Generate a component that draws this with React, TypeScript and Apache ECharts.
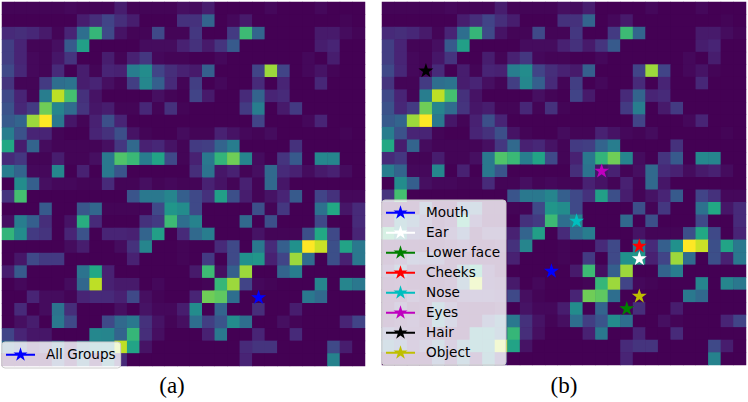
import React, { useEffect, useRef } from "react";
import * as echarts from "echarts";

const heatRows: number[][] = [
  [1,1,1,1,1,2,1,1,1,8,1,1,1,1,4,3,8,0,0,0,0,2,0,0,0,2,0,0,0],
  [0,0,0,0,0,0,8,13,20,13,8,0,0,0,14,14,32,0,2,7,0,0,0,0,0,0,0,1,0],
  [12,13,11,7,1,10,36,66,22,5,1,1,22,1,1,16,0,0,17,68,32,0,0,0,0,7,7,3,1],
  [18,10,1,1,4,28,56,0,0,0,0,3,3,3,9,14,7,15,28,0,0,0,0,0,0,8,10,0,0],
  [18,10,2,1,6,15,0,0,8,1,9,16,2,1,1,0,0,2,0,0,0,0,0,0,2,0,8,0,0],
  [22,11,2,1,12,0,8,1,10,9,42,48,20,13,9,7,30,0,0,0,20,85,20,0,2,5,1,0,0],
  [15,1,1,17,36,38,8,10,4,1,18,46,30,12,1,18,0,2,0,0,12,0,10,0,0,11,0,0,0],
  [22,10,1,42,90,70,14,5,0,0,0,0,4,1,0,20,7,0,0,12,32,10,12,0,0,0,0,0,0],
  [25,11,17,78,45,35,15,6,8,1,1,11,1,14,1,0,0,0,0,17,42,0,7,17,0,0,0,0,0],
  [28,32,85,100,40,6,1,9,24,10,0,0,0,0,0,0,0,0,0,0,20,0,0,0,2,10,0,0,0],
  [42,25,10,10,1,0,0,10,14,24,5,1,0,0,3,1,1,9,5,2,1,3,0,0,0,0,0,1,0],
  [60,8,32,3,1,1,1,1,4,16,34,9,11,5,1,17,18,32,42,0,0,0,0,14,0,0,0,0,0],
  [12,16,1,1,8,1,1,4,40,72,67,42,58,22,1,9,40,65,78,45,3,0,15,28,0,46,45,0,0],
  [42,32,2,2,46,0,9,0,40,26,0,0,0,0,0,13,38,6,9,1,4,34,12,9,3,7,9,3,0],
  [0,48,30,4,2,2,1,1,12,1,1,4,1,2,1,1,9,5,1,9,1,34,6,0,0,0,0,0,0],
  [15,70,0,0,0,0,0,0,0,0,26,40,40,45,30,22,14,56,24,8,1,5,10,28,0,20,14,2,2],
  [0,0,0,28,0,0,27,33,1,1,1,1,22,52,48,22,0,0,0,0,24,1,16,0,0,37,60,6,12],
  [4,42,30,13,0,5,62,12,0,0,0,14,17,68,36,44,0,0,0,34,0,24,0,0,0,22,0,0,12],
  [65,48,17,15,0,10,25,0,10,10,9,32,56,0,12,34,42,0,0,0,5,1,1,1,24,60,22,0,10],
  [0,0,0,0,0,3,8,0,0,3,14,45,0,0,1,0,0,12,22,0,40,12,30,50,100,92,24,58,40],
  [0,6,22,17,17,0,0,0,0,0,9,0,0,0,1,0,17,0,22,50,52,9,20,85,35,0,24,9,40],
  [8,28,0,0,0,0,38,60,9,0,0,0,0,0,0,7,68,4,30,85,0,0,32,42,0,0,0,0,0],
  [0,2,0,0,0,3,33,90,9,7,7,0,2,0,0,0,1,66,85,20,2,1,0,0,0,45,0,45,40],
  [0,0,10,3,3,1,10,12,12,9,22,4,1,0,0,10,78,75,36,0,0,0,0,0,40,34,0,0,0],
  [0,12,0,3,38,13,0,0,0,4,0,5,2,2,8,48,0,32,0,0,13,0,0,8,0,0,0,0,0],
  [0,4,8,0,40,22,0,0,22,34,40,14,5,1,4,36,18,26,48,36,0,0,4,1,0,0,0,10,20],
  [20,10,6,6,0,0,0,46,45,32,66,13,4,0,0,0,9,40,0,0,10,0,0,12,0,0,0,0,0],
  [35,25,8,15,35,8,35,45,45,90,58,5,0,0,0,0,0,0,0,12,15,15,0,0,0,0,22,8,0],
  [0,0,0,0,25,5,35,5,40,12,0,0,0,0,0,0,0,0,0,10,0,0,0,0,0,0,44,0,0],
];

const viridis = ["#440154","#482475","#414487","#355f8d","#2a788e","#21918c","#22a884","#44bf70","#7ad151","#bddf26","#fde725"];

const allGroups = [{ name: "All Groups", color: "#0000ff", x: 20.5, y: 23.5 }];
const partGroups = [
  { name: "Mouth", color: "#0000ff", x: 13.5, y: 21.45 },
  { name: "Ear", color: "#ffffff", x: 20.5, y: 20.45 },
  { name: "Lower face", color: "#008000", x: 19.5, y: 24.45 },
  { name: "Cheeks", color: "#ff0000", x: 20.5, y: 19.45 },
  { name: "Nose", color: "#00bfbf", x: 15.5, y: 17.45 },
  { name: "Eyes", color: "#bf00bf", x: 17.5, y: 13.45 },
  { name: "Hair", color: "#000000", x: 3.5, y: 5.45 },
  { name: "Object", color: "#bfbf00", x: 20.5, y: 23.45 },
];

const STAR = "M14.5 -0.4L16.16 4.71L21.54 4.71L17.19 7.87L18.85 12.99L14.5 9.83L10.15 12.99L11.81 7.87L7.46 4.71L12.84 4.71Z";
const starSymbol = "path://" + STAR;
const legendIcon = "path://M0 6L29 6L29 8L0 8Z" + STAR;

const cats = heatRows.map((_, i) => String(i));
const heatData = heatRows.flatMap((row, y) => row.map((v, x) => [x, y, v]));

const grids = [
  { left: 2, top: 2, width: 363, height: 364 },
  { left: 382, top: 2, width: 364, height: 363 },
];

function hiddenAxis(extra: any) {
  return { show: false, ...extra };
}

export default function App() {
  const ref = useRef<HTMLDivElement>(null);
  useEffect(() => {
    document.body.style.margin = "0";
    const chart = echarts.init(ref.current!, null, { renderer: "svg" });
    const starSeries = (g: any, axisIndex: number) => ({
      type: "scatter",
      name: g.name,
      xAxisIndex: axisIndex,
      yAxisIndex: axisIndex,
      data: [[g.x, g.y]],
      symbol: starSymbol,
      symbolSize: [15, 14.3],
      z: 5,
      itemStyle: { color: g.color, opacity: 1 },
    });
    const legendText = { fontFamily: "DejaVu Sans", fontSize: 13.6, lineHeight: 14, color: "#000", padding: [0, 0, 0, 6] };
    chart.setOption({
      animation: false,
      backgroundColor: "#fff",
      grid: [...grids, ...grids].map((g) => ({ ...g, show: true, backgroundColor: "#440154", borderWidth: 0 })),
      xAxis: [
        hiddenAxis({ type: "category", data: cats, gridIndex: 0 }),
        hiddenAxis({ type: "category", data: cats, gridIndex: 1 }),
        hiddenAxis({ type: "value", min: 0, max: 29, gridIndex: 2 }),
        hiddenAxis({ type: "value", min: 0, max: 29, gridIndex: 3 }),
      ],
      yAxis: [
        hiddenAxis({ type: "category", data: cats, inverse: true, gridIndex: 0 }),
        hiddenAxis({ type: "category", data: cats, inverse: true, gridIndex: 1 }),
        hiddenAxis({ type: "value", min: 0, max: 29, inverse: true, gridIndex: 2 }),
        hiddenAxis({ type: "value", min: 0, max: 29, inverse: true, gridIndex: 3 }),
      ],
      visualMap: {
        show: false,
        min: 0,
        max: 100,
        dimension: 2,
        seriesIndex: [0, 1],
        inRange: { color: viridis },
      },
      legend: [
        {
          left: 2,
          top: 342,
          orient: "vertical",
          padding: [5, 5, 7, 4],
          itemWidth: 29,
          itemHeight: 13.4,
          icon: legendIcon,
          data: allGroups.map((g) => g.name),
          backgroundColor: "rgba(255,255,255,0.8)",
          borderColor: "#cccccc",
          borderWidth: 1,
          borderRadius: 3,
          textStyle: legendText,
          selectedMode: false,
        },
        {
          left: 382,
          top: 200,
          orient: "vertical",
          padding: [5, 6, 6, 4],
          itemWidth: 29,
          itemHeight: 13.4,
          itemGap: 6,
          icon: legendIcon,
          data: partGroups.map((g) => g.name),
          backgroundColor: "rgba(255,255,255,0.8)",
          borderColor: "#cccccc",
          borderWidth: 1,
          borderRadius: 3,
          textStyle: legendText,
          selectedMode: false,
        },
      ],
      series: [
        { type: "heatmap", xAxisIndex: 0, yAxisIndex: 0, data: heatData, itemStyle: { borderWidth: 0 }, progressive: 0 },
        { type: "heatmap", xAxisIndex: 1, yAxisIndex: 1, data: heatData, itemStyle: { borderWidth: 0 }, progressive: 0 },
        ...allGroups.map((g) => starSeries(g, 2)),
        ...partGroups.map((g) => starSeries(g, 3)),
      ],
      graphic: [
        { type: "text", x: 172, y: 385, style: { text: "(a)", fontFamily: "Liberation Serif", fontSize: 23, fill: "#000", align: "center", verticalAlign: "middle" } },
        { type: "text", x: 564, y: 385, style: { text: "(b)", fontFamily: "Liberation Serif", fontSize: 23, fill: "#000", align: "center", verticalAlign: "middle" } },
      ],
    });
    return () => chart.dispose();
  }, []);
  return <div ref={ref} style={{ width: 748, height: 402 }} />;
}
